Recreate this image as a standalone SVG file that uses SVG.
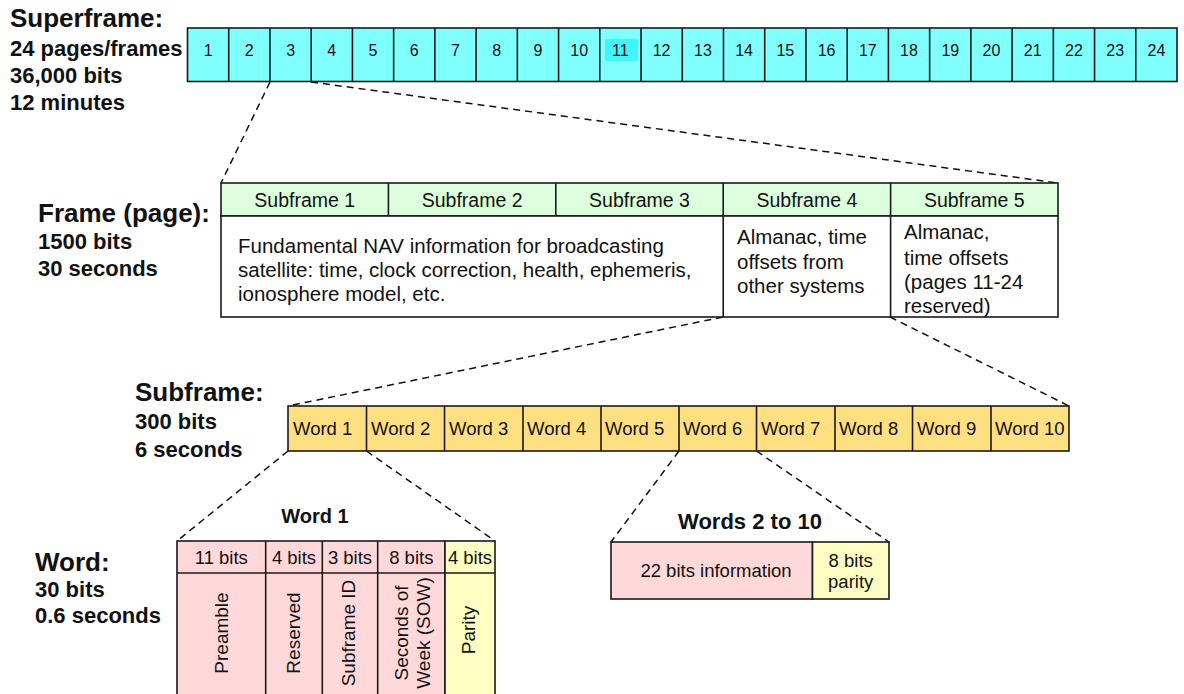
<svg xmlns="http://www.w3.org/2000/svg" width="1184" height="694" viewBox="0 0 1184 694">
<style>
text{font-family:"Liberation Sans",Arial,sans-serif;fill:#111}
.lbl{font-weight:bold;font-size:22px}
.ttl{font-weight:bold;font-size:26px}
.num{font-size:16px;text-anchor:middle}
.hd{font-size:19.5px;text-anchor:middle}
.bd{font-size:20.5px}
.wd{font-size:18.5px}
.bit{font-size:18.5px;text-anchor:middle}
.rot{font-size:19px;text-anchor:middle}
.sub{font-weight:bold;font-size:20px;text-anchor:middle}
.box{stroke:#1a1a1a;stroke-width:1.6}
.cyan{fill:#80ffff}
.green{fill:#ddffdd}
.white{fill:#ffffff}
.gold{fill:#ffe080}
.pink{fill:#ffd9d9}
.yel{fill:#ffffc4}
.dash{stroke:#111;stroke-width:1.5;stroke-dasharray:7 5;fill:none}
</style>

<g id="labels">
<text class="ttl" x="10" y="27">Superframe:</text>
<text class="lbl" x="10" y="56">24 pages/frames</text>
<text class="lbl" x="10" y="83">36,000 bits</text>
<text class="lbl" x="10" y="110">12 minutes</text>
<text class="ttl" x="38" y="222">Frame (page):</text>
<text class="lbl" x="38" y="249">1500 bits</text>
<text class="lbl" x="38" y="276">30 seconds</text>
<text class="ttl" x="135" y="401">Subframe:</text>
<text class="lbl" x="135" y="429">300 bits</text>
<text class="lbl" x="135" y="457">6 seconds</text>
<text class="ttl" x="35" y="571">Word:</text>
<text class="lbl" x="35" y="597">30 bits</text>
<text class="lbl" x="35" y="623">0.6 seconds</text>
</g>

<g id="connectors">
<line class="dash" x1="270" y1="82" x2="221" y2="183"/>
<line class="dash" x1="311" y1="82" x2="1058" y2="183"/>
<line class="dash" x1="723" y1="317" x2="288" y2="406"/>
<line class="dash" x1="890" y1="317" x2="1069" y2="406"/>
<line class="dash" x1="288" y1="451" x2="177" y2="541"/>
<line class="dash" x1="366.5" y1="451" x2="495" y2="541"/>
<line class="dash" x1="679" y1="451" x2="611" y2="542"/>
<line class="dash" x1="756.5" y1="451" x2="889" y2="542"/>
</g>

<g id="superframe">
<rect class="box cyan" x="187.5" y="28" width="989.5" height="53.5"/>
<rect x="605" y="39" width="33" height="22" fill="#3ff6ff"/>
<g class="box" fill="none">
<line x1="228.73" y1="28" x2="228.73" y2="81.5"/><line x1="269.96" y1="28" x2="269.96" y2="81.5"/>
<line x1="311.19" y1="28" x2="311.19" y2="81.5"/><line x1="352.42" y1="28" x2="352.42" y2="81.5"/>
<line x1="393.65" y1="28" x2="393.65" y2="81.5"/><line x1="434.88" y1="28" x2="434.88" y2="81.5"/>
<line x1="476.11" y1="28" x2="476.11" y2="81.5"/><line x1="517.34" y1="28" x2="517.34" y2="81.5"/>
<line x1="558.57" y1="28" x2="558.57" y2="81.5"/><line x1="599.8" y1="28" x2="599.8" y2="81.5"/>
<line x1="641.03" y1="28" x2="641.03" y2="81.5"/><line x1="682.26" y1="28" x2="682.26" y2="81.5"/>
<line x1="723.49" y1="28" x2="723.49" y2="81.5"/><line x1="764.72" y1="28" x2="764.72" y2="81.5"/>
<line x1="805.95" y1="28" x2="805.95" y2="81.5"/><line x1="847.18" y1="28" x2="847.18" y2="81.5"/>
<line x1="888.41" y1="28" x2="888.41" y2="81.5"/><line x1="929.64" y1="28" x2="929.64" y2="81.5"/>
<line x1="970.87" y1="28" x2="970.87" y2="81.5"/><line x1="1012.1" y1="28" x2="1012.1" y2="81.5"/>
<line x1="1053.33" y1="28" x2="1053.33" y2="81.5"/><line x1="1094.56" y1="28" x2="1094.56" y2="81.5"/>
<line x1="1135.79" y1="28" x2="1135.79" y2="81.5"/>
</g>
<text class="num" x="208.1" y="56">1</text><text class="num" x="249.3" y="56">2</text>
<text class="num" x="290.6" y="56">3</text><text class="num" x="331.8" y="56">4</text>
<text class="num" x="373.0" y="56">5</text><text class="num" x="414.3" y="56">6</text>
<text class="num" x="455.5" y="56">7</text><text class="num" x="496.7" y="56">8</text>
<text class="num" x="538.0" y="56">9</text><text class="num" x="579.2" y="56">10</text>
<text class="num" x="620.4" y="56">11</text><text class="num" x="661.6" y="56">12</text>
<text class="num" x="702.9" y="56">13</text><text class="num" x="744.1" y="56">14</text>
<text class="num" x="785.3" y="56">15</text><text class="num" x="826.6" y="56">16</text>
<text class="num" x="867.8" y="56">17</text><text class="num" x="909.0" y="56">18</text>
<text class="num" x="950.3" y="56">19</text><text class="num" x="991.5" y="56">20</text>
<text class="num" x="1032.7" y="56">21</text><text class="num" x="1073.9" y="56">22</text>
<text class="num" x="1115.2" y="56">23</text><text class="num" x="1156.4" y="56">24</text>
</g>

<g id="frame">
<rect class="box green" x="221" y="183" width="837" height="33"/>
<rect class="box white" x="221" y="216" width="837" height="101"/>
<line class="box" x1="388.4" y1="183" x2="388.4" y2="216"/>
<line class="box" x1="555.8" y1="183" x2="555.8" y2="216"/>
<line class="box" x1="723.2" y1="183" x2="723.2" y2="317"/>
<line class="box" x1="890.6" y1="183" x2="890.6" y2="317"/>
<text class="hd" x="304.7" y="207">Subframe 1</text>
<text class="hd" x="472.1" y="207">Subframe 2</text>
<text class="hd" x="639.5" y="207">Subframe 3</text>
<text class="hd" x="806.9" y="207">Subframe 4</text>
<text class="hd" x="974.3" y="207">Subframe 5</text>
<text class="bd" x="238" y="253">Fundamental NAV information for broadcasting</text>
<text class="bd" x="238" y="277">satellite: time, clock correction, health, ephemeris,</text>
<text class="bd" x="238" y="301">ionosphere model, etc.</text>
<text class="bd" x="737" y="244">Almanac, time</text>
<text class="bd" x="737" y="269">offsets from</text>
<text class="bd" x="737" y="293">other systems</text>
<text class="bd" x="904" y="239">Almanac,</text>
<text class="bd" x="904" y="265">time offsets</text>
<text class="bd" x="904" y="289">(pages 11-24</text>
<text class="bd" x="904" y="313">reserved)</text>
</g>

<g id="subframe">
<rect class="box gold" x="288" y="406" width="781" height="45"/>
<line class="box" x1="366.5" y1="406" x2="366.5" y2="451"/>
<line class="box" x1="444.5" y1="406" x2="444.5" y2="451"/>
<line class="box" x1="523" y1="406" x2="523" y2="451"/>
<line class="box" x1="601" y1="406" x2="601" y2="451"/>
<line class="box" x1="679" y1="406" x2="679" y2="451"/>
<line class="box" x1="756.5" y1="406" x2="756.5" y2="451"/>
<line class="box" x1="835" y1="406" x2="835" y2="451"/>
<line class="box" x1="912.5" y1="406" x2="912.5" y2="451"/>
<line class="box" x1="991" y1="406" x2="991" y2="451"/>
<text class="wd" x="293" y="435">Word 1</text>
<text class="wd" x="371" y="435">Word 2</text>
<text class="wd" x="449" y="435">Word 3</text>
<text class="wd" x="527" y="435">Word 4</text>
<text class="wd" x="605" y="435">Word 5</text>
<text class="wd" x="683" y="435">Word 6</text>
<text class="wd" x="761" y="435">Word 7</text>
<text class="wd" x="839" y="435">Word 8</text>
<text class="wd" x="917" y="435">Word 9</text>
<text class="wd" x="995" y="435">Word 10</text>
</g>

<g id="word1">
<text class="sub" x="315" y="523">Word 1</text>
<rect class="box pink" x="177" y="541" width="268" height="160"/>
<rect class="box yel" x="445" y="541" width="50" height="160"/>
<line class="box" x1="177" y1="573" x2="495" y2="573"/>
<line class="box" x1="265.7" y1="541" x2="265.7" y2="701"/>
<line class="box" x1="322.3" y1="541" x2="322.3" y2="701"/>
<line class="box" x1="377.7" y1="541" x2="377.7" y2="701"/>
<text class="bit" x="221.3" y="564">11 bits</text>
<text class="bit" x="294" y="564">4 bits</text>
<text class="bit" x="350" y="564">3 bits</text>
<text class="bit" x="411.3" y="564">8 bits</text>
<text class="bit" x="470" y="564">4 bits</text>
<text class="rot" transform="translate(228,633) rotate(-90)">Preamble</text>
<text class="rot" transform="translate(300,633) rotate(-90)">Reserved</text>
<text class="rot" transform="translate(355,633) rotate(-90)">Subframe ID</text>
<text class="rot" transform="translate(408,633) rotate(-90)">Seconds of</text>
<text class="rot" transform="translate(430,633) rotate(-90)">Week (SOW)</text>
<text class="rot" transform="translate(475,630) rotate(-90)">Parity</text>
</g>

<g id="words2to10">
<text class="sub" x="750" y="529" style="font-size:22px">Words 2 to 10</text>
<rect class="box pink" x="611" y="542" width="201.5" height="57"/>
<rect class="box yel" x="812.5" y="542" width="76.5" height="57"/>
<text class="bit" x="716" y="577">22 bits information</text>
<text class="bit" x="850.7" y="567">8 bits</text>
<text class="bit" x="850.7" y="588">parity</text>
</g>
</svg>
